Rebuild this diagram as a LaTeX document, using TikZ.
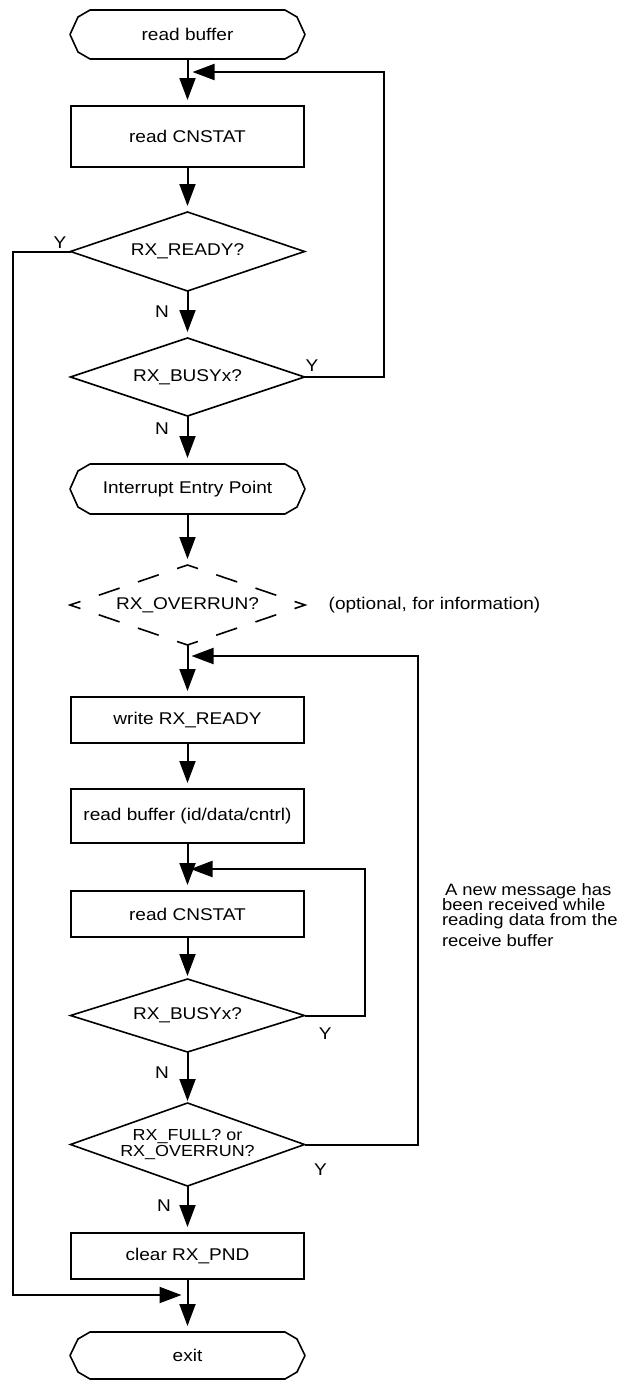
\documentclass[tikz,border=0pt]{standalone}
\usepackage{fontspec}
\setmainfont{Liberation Sans}[FakeStretch=1.12]
\usetikzlibrary{arrows.meta,shapes.geometric,calc}
\newcommand{\termline}[1]{\draw[line width=1.6pt, line join=round] ($(#1.north west)+(20,0)$) -- ($(#1.north west)+(8,7)$) -- (#1.west) -- ($(#1.south west)+(8,-7)$) -- ($(#1.south west)+(20,0)$) -- ($(#1.south east)+(-20,0)$) -- ($(#1.south east)+(-8,-7)$) -- (#1.east) -- ($(#1.north east)+(-8,7)$) -- ($(#1.north east)+(-20,0)$) -- cycle;}
\begin{document}
\begin{tikzpicture}[x=1pt,y=-1pt,
  every node/.style={font=\fontsize{17}{19}\selectfont, outer sep=0pt, inner sep=0pt},
  proc/.style={rectangle, draw, line width=2pt, minimum width=233pt},
  dec/.style={diamond, draw, line width=1.6pt, minimum width=234pt, aspect=3},
  termbox/.style={rectangle, minimum width=235pt},
  arr/.style={line width=2pt, -{Triangle[length=22pt,width=16pt]}, shorten >=6pt},
  lbl/.style={font=\fontsize{17}{19}\selectfont},
  note/.style={font=\fontsize{16.5}{18}\selectfont, anchor=base west}
]
\useasboundingbox (0,0) rectangle (634,1381);

% nodes
\node[termbox, minimum height=49pt] (rb) at (187.5,34.5) {read buffer};
\node[proc, minimum height=61pt] (cn1) at (187.5,136.5) {read CNSTAT};
\node[dec, minimum height=79pt] (rdy) at (187.5,251.5) {RX\_READY?};
\node[dec, minimum height=78pt] (busy1) at (187.5,377) {RX\_BUSYx?};
\node[termbox, minimum height=50pt] (iep) at (187.5,489) {Interrupt Entry Point};
\node[diamond, minimum width=235pt, minimum height=80pt, aspect=3] (dd) at (187.5,605) {RX\_OVERRUN?};
\node[proc, minimum height=46pt] (wr) at (187.5,720) {write RX\_READY};
\node[proc, minimum height=54pt] (rbuf) at (187.5,816) {read buffer (id/data/cntrl)};
\node[proc, minimum height=46pt] (cn2) at (187.5,914) {read CNSTAT};
\node[dec, minimum height=73pt] (busy2) at (187.5,1015.5) {RX\_BUSYx?};
\node[dec, minimum height=83pt, align=center, font=\fontsize{16}{16.5}\selectfont] (full) at (187.5,1144.5) {RX\_FULL? or\\RX\_OVERRUN?};
\node[proc, minimum height=46pt] (clr) at (187.5,1256) {clear RX\_PND};
\node[termbox, minimum height=47pt] (ex) at (187.5,1355.5) {exit};

\termline{rb}
\termline{iep}
\termline{ex}
\draw[line width=1.6pt, dash pattern=on 22pt off 19.37pt, dash phase=11pt]
  (dd.north) -- (dd.west) -- (dd.south) -- (dd.east) -- cycle;

% labels
\node[lbl] (y1) at (60,242.5) {Y};
\node[lbl] (n1) at (162,311.5) {N};
\node[lbl] (y2) at (312,366) {Y};
\node[lbl] (n2) at (162,428.3) {N};
\node[lbl] (opt) at (434.5,605) {(optional, for information)};
\node[lbl] (y3) at (325.3,1033.5) {Y};
\node[lbl] (n3) at (162,1072.5) {N};
\node[lbl] (y4) at (320.5,1169.5) {Y};
\node[lbl] (n4) at (164,1206) {N};

\node[note] (t1) at (445,895) {A new message has};
\node[note] (t2) at (442,910) {been received while};
\node[note] (t3) at (442,925) {reading data from the};
\node[note] (t4) at (442,946) {receive buffer};

% main flow
\draw[arr] (rb.south) -- (cn1.north);
\draw[arr] (cn1.north |- cn1.south) -- (rdy.north);
\draw[arr] (rdy.south) -- (busy1.north);
\draw[arr] (busy1.south) -- (iep.north);
\draw[arr] (iep.south) -- (dd.north);
\draw[arr] (dd.south) -- (wr.north);
\draw[arr] (wr.south) -- (rbuf.north);
\draw[arr] (rbuf.south) -- (cn2.north);
\draw[arr, shorten >=3pt] (cn2.south) -- (busy2.north);
\draw[arr, shorten >=2pt] (busy2.south) -- (full.north);
\draw[arr] (full.south) -- (clr.north);
\draw[arr] (clr.south) -- (ex.north);

% loops
\coordinate (fb1) at (187.5,72);
\coordinate (fb2) at (187.5,656);
\coordinate (fb3) at (187.5,869);
\coordinate (mg) at (187.5,1295);
\draw[arr, shorten >=5pt] (busy1.east) -- ++(79,0) |- (fb1);
\draw[arr, shorten >=4pt] (full.east) -- ++(113.5,0) |- (fb2);
\draw[arr, shorten >=3pt] (busy2.east) -- ++(60.5,0) |- (fb3);
\draw[arr] (rdy.west) -- ++(-58,0) |- (mg);
\end{tikzpicture}
\end{document}
